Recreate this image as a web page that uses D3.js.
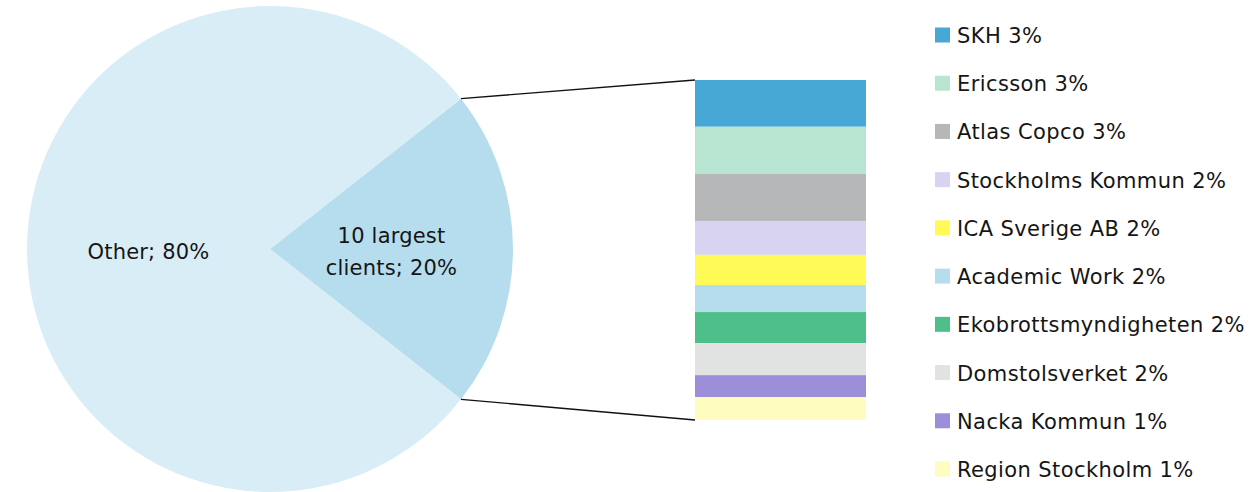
<!DOCTYPE html>
<html>
<head>
<meta charset="utf-8">
<script src="https://cdn.jsdelivr.net/npm/d3@7"></script>
<style>
  html, body { margin: 0; padding: 0; background: #fff; }
  svg { display: block; }
  text { font-family: "DejaVu Sans", sans-serif; fill: #151515; }
</style>
</head>
<body>
<svg id="chart" width="1260" height="492"></svg>
<script>
// ---- data ----
const clients = ["SKH", "Ericsson", "Atlas Copco", "Stockholms Kommun", "ICA Sverige AB",
  "Academic Work", "Ekobrottsmyndigheten", "Domstolsverket", "Nacka Kommun", "Region Stockholm"];
const clientShares = [2.92, 2.94, 2.94, 2.12, 1.88, 1.69, 1.94, 2.0, 1.38, 1.42];
const clientLabels = ["3%", "3%", "3%", "2%", "2%", "2%", "2%", "2%", "1%", "1%"];
const clientColors = ["#47a8d6", "#b8e5d1", "#b6b7b8", "#d8d3f1", "#fffa55",
  "#b5ddee", "#4ebf88", "#e1e3e2", "#9c8ed9", "#fffcbf"];
const pieNames = ["10 largest clients", "Other"];
const pieLabelLines = [["10 largest", "clients; 20%"], ["Other; 80%"]];
const pieColors = ["#b5ddee", "#d9edf7"];

const largestTotal = d3.sum(clientShares);
const pieValues = [largestTotal, 100 - largestTotal];

// ---- layout ----
const svg = d3.select("#chart");
const cx = 270, cy = 249, R = 243;

const sliceAngle = largestTotal / 100 * 2 * Math.PI;
const start = Math.PI / 2 - sliceAngle / 2;
const pie = d3.pie().sort(null).value(d => d)
  .startAngle(start).endAngle(start + 2 * Math.PI);
const arcs = pie(pieValues);
const arc = d3.arc().innerRadius(0).outerRadius(R);

const g = svg.append("g").attr("transform", `translate(${cx},${cy})`);
g.selectAll("path").data(arcs).join("path")
  .attr("d", arc)
  .attr("fill", (d, i) => pieColors[i]);

g.selectAll("text.pl").data(arcs).join("text")
  .attr("class", "pl")
  .attr("text-anchor", "middle")
  .attr("font-size", 21)
  .attr("letter-spacing", 0.2)
  .each(function(d, i) {
    const [x, y] = arc.centroid(d);
    const lines = pieLabelLines[i];
    const lh = 32;
    const t = d3.select(this);
    lines.forEach((ln, k) => {
      t.append("tspan")
        .attr("x", x)
        .attr("y", y + 10 + (k - (lines.length - 1) / 2) * lh)
        .text(ln);
    });
  });

// ---- stacked bar ----
const y = d3.scaleLinear().domain([0, largestTotal]).range([80, 420]);
const x = d3.scaleLinear().domain([0, 1]).range([695, 866]);
const cum = d3.cumsum(clientShares);
const stack = clientShares.map((v, i) => ({ v, y0: cum[i] - v, y1: cum[i], i }));

svg.append("g").selectAll("rect").data(stack).join("rect")
  .attr("x", x(0))
  .attr("width", x(1) - x(0))
  .attr("y", d => y(d.y0))
  .attr("height", d => y(d.y1) - y(d.y0))
  .attr("fill", d => clientColors[d.i]);

// ---- connector lines ----
const pt = a => [cx + R * Math.sin(a), cy - R * Math.cos(a)];
const sl = arcs[0];
const pTop = pt(sl.startAngle), pBot = pt(sl.endAngle);
svg.append("line")
  .attr("x1", pTop[0]).attr("y1", pTop[1])
  .attr("x2", x(0)).attr("y2", y(0))
  .attr("stroke", "#111").attr("stroke-width", 1.3);
svg.append("line")
  .attr("x1", pBot[0]).attr("y1", pBot[1])
  .attr("x2", x(0)).attr("y2", y(largestTotal))
  .attr("stroke", "#111").attr("stroke-width", 1.3);

// ---- legend ----
const ly = d3.scalePoint().domain(clients).range([35, 469]);
const leg = svg.append("g").selectAll("g").data(clients).join("g")
  .attr("transform", d => `translate(935,${ly(d)})`);
leg.append("rect")
  .attr("x", 0).attr("y", -7.5).attr("width", 15).attr("height", 15)
  .attr("fill", (d, i) => clientColors[i]);
leg.append("text")
  .attr("x", 22).attr("y", 8)
  .attr("font-size", 21)
  .attr("letter-spacing", 0.4)
  .text((d, i) => `${d} ${clientLabels[i]}`);
</script>
</body>
</html>
